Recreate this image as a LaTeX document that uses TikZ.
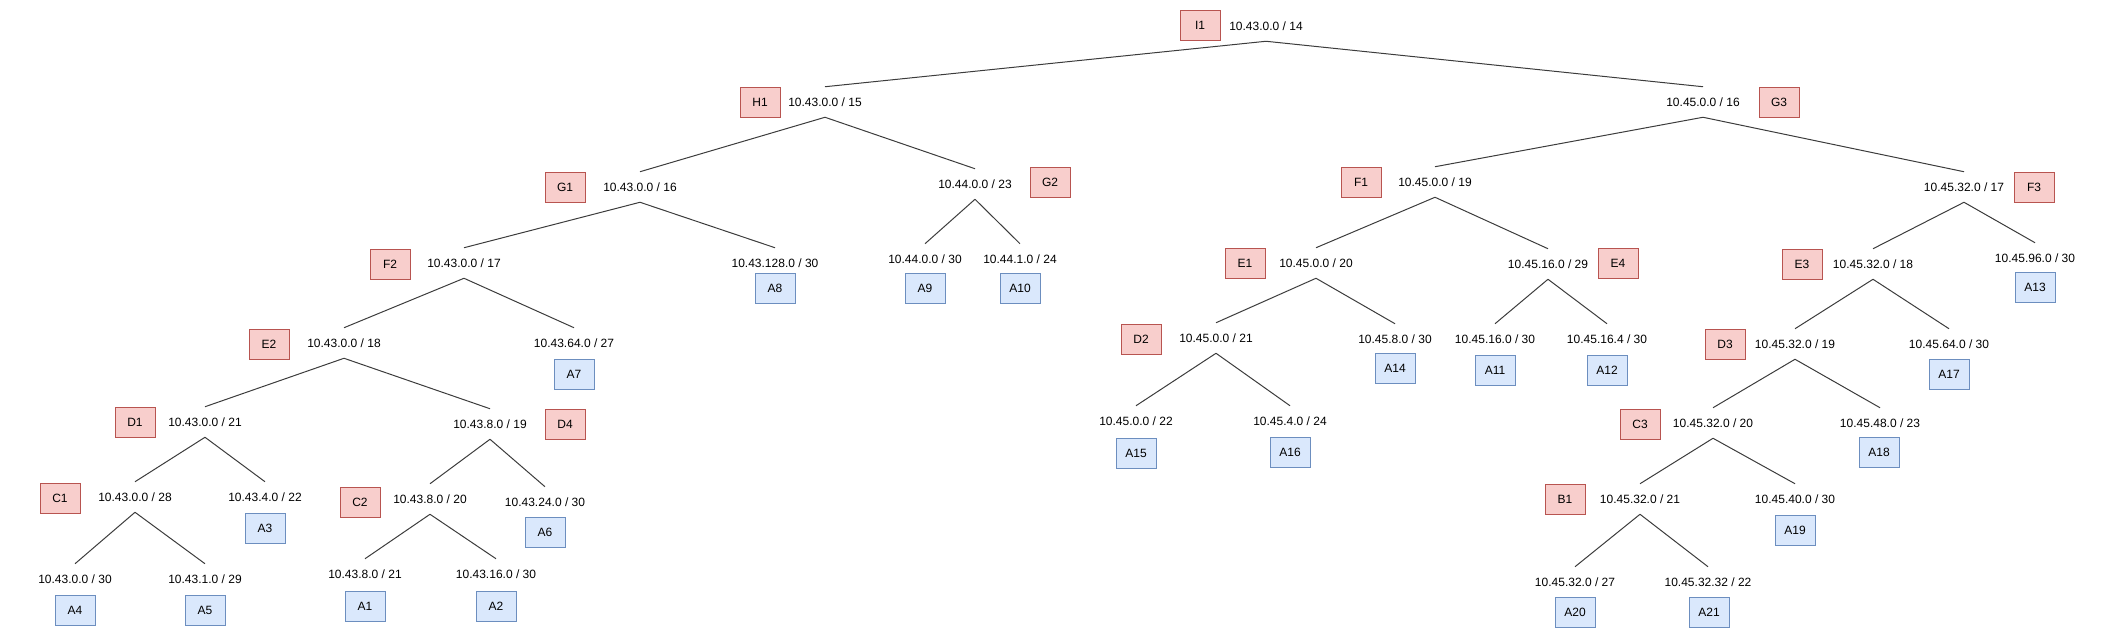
\documentclass[tikz,border=0pt]{standalone}
\usepackage{fontspec}
\setmainfont{Liberation Sans}
\definecolor{redfill}{HTML}{F8CECC}
\definecolor{redline}{HTML}{B85450}
\definecolor{bluefill}{HTML}{DAE8FC}
\definecolor{blueline}{HTML}{6C8EBF}
\definecolor{edgecol}{HTML}{3C3C3C}
\tikzset{
  redbox/.style={draw=redline, fill=redfill, line width=0.75pt, minimum width=30pt, minimum height=22.5pt, inner sep=0pt, font=\fontsize{9}{10}\selectfont},
  bluebox/.style={draw=blueline, fill=bluefill, line width=0.75pt, minimum width=30pt, minimum height=22.5pt, inner sep=0pt, font=\fontsize{9}{10}\selectfont},
  lbl/.style={minimum height=22.5pt, inner sep=0pt, font=\fontsize{9}{10}\selectfont},
  edge/.style={draw=edgecol, line width=0.75pt}
}
\begin{document}
\begin{tikzpicture}[x=0.75pt, y=-0.75pt]
\useasboundingbox (0,0) rectangle (2110,639);
% red boxes
\node[redbox] (I1) at (1200,25) {I1};
\node[redbox] (H1) at (760,102) {H1};
\node[redbox] (G1) at (565,187) {G1};
\node[redbox] (G2) at (1050,182) {G2};
\node[redbox] (G3) at (1779,102) {G3};
\node[redbox] (F1) at (1361,182) {F1};
\node[redbox] (F2) at (390,264) {F2};
\node[redbox] (F3) at (2034,187) {F3};
\node[redbox] (E1) at (1245,263) {E1};
\node[redbox] (E2) at (269,344) {E2};
\node[redbox] (E3) at (1802,264) {E3};
\node[redbox] (E4) at (1618,263) {E4};
\node[redbox] (D1) at (135,422) {D1};
\node[redbox] (D2) at (1141,339) {D2};
\node[redbox] (D3) at (1725,344) {D3};
\node[redbox] (D4) at (565,424) {D4};
\node[redbox] (C1) at (60,498) {C1};
\node[redbox] (C2) at (360,502) {C2};
\node[redbox] (C3) at (1640,424) {C3};
\node[redbox] (B1) at (1565,499) {B1};
% blue boxes
\node[bluebox] (A1) at (365,606) {A1};
\node[bluebox] (A2) at (496,606) {A2};
\node[bluebox] (A3) at (265,528) {A3};
\node[bluebox] (A4) at (75,610) {A4};
\node[bluebox] (A5) at (205,610) {A5};
\node[bluebox] (A6) at (545,532) {A6};
\node[bluebox] (A7) at (574,374) {A7};
\node[bluebox] (A8) at (775,288) {A8};
\node[bluebox] (A9) at (925,288) {A9};
\node[bluebox] (A10) at (1020,288) {A10};
\node[bluebox] (A11) at (1495,370) {A11};
\node[bluebox] (A12) at (1607,370) {A12};
\node[bluebox] (A13) at (2035,287) {A13};
\node[bluebox] (A14) at (1395,368) {A14};
\node[bluebox] (A15) at (1136,453) {A15};
\node[bluebox] (A16) at (1290,452) {A16};
\node[bluebox] (A17) at (1949,374) {A17};
\node[bluebox] (A18) at (1879,452) {A18};
\node[bluebox] (A19) at (1795,530) {A19};
\node[bluebox] (A20) at (1575,612) {A20};
\node[bluebox] (A21) at (1709,612) {A21};
% labels
\node[lbl] (l14) at (1266,26) {10.43.0.0 / 14};
\node[lbl] (l15) at (825,102) {10.43.0.0 / 15};
\node[lbl] (lG3) at (1703,102) {10.45.0.0 / 16};
\node[lbl] (lG1) at (640,187) {10.43.0.0 / 16};
\node[lbl] (lG2) at (975,184) {10.44.0.0 / 23};
\node[lbl] (lF2) at (464,263) {10.43.0.0 / 17};
\node[lbl] (lA8) at (775,263) {10.43.128.0 / 30};
\node[lbl] (lA9) at (925,259) {10.44.0.0 / 30};
\node[lbl] (lA10) at (1020,259) {10.44.1.0 / 24};
\node[lbl] (lE2) at (344,343) {10.43.0.0 / 18};
\node[lbl] (lA7) at (574,343) {10.43.64.0 / 27};
\node[lbl] (lD1) at (205,422) {10.43.0.0 / 21};
\node[lbl] (lD4) at (490,424) {10.43.8.0 / 19};
\node[lbl] (lC1) at (135,497) {10.43.0.0 / 28};
\node[lbl] (lA3) at (265,497) {10.43.4.0 / 22};
\node[lbl] (lC2) at (430,499) {10.43.8.0 / 20};
\node[lbl] (lA6) at (545,502) {10.43.24.0 / 30};
\node[lbl] (lA4) at (75,579) {10.43.0.0 / 30};
\node[lbl] (lA5) at (205,579) {10.43.1.0 / 29};
\node[lbl] (lA1) at (365,574) {10.43.8.0 / 21};
\node[lbl] (lA2) at (496,574) {10.43.16.0 / 30};
\node[lbl] (lF1) at (1435,182) {10.45.0.0 / 19};
\node[lbl] (lF3) at (1964,187) {10.45.32.0 / 17};
\node[lbl] (lE1) at (1316,263) {10.45.0.0 / 20};
\node[lbl] (lE4) at (1548,264) {10.45.16.0 / 29};
\node[lbl] (lD2) at (1216,338) {10.45.0.0 / 21};
\node[lbl] (lA14) at (1395,339) {10.45.8.0 / 30};
\node[lbl] (lA15) at (1136,421) {10.45.0.0 / 22};
\node[lbl] (lA16) at (1290,421) {10.45.4.0 / 24};
\node[lbl] (lA11) at (1495,339) {10.45.16.0 / 30};
\node[lbl] (lA12) at (1607,339) {10.45.16.4 / 30};
\node[lbl] (lE3) at (1873,264) {10.45.32.0 / 18};
\node[lbl] (lA13) at (2035,258) {10.45.96.0 / 30};
\node[lbl] (lD3) at (1795,344) {10.45.32.0 / 19};
\node[lbl] (lA17) at (1949,344) {10.45.64.0 / 30};
\node[lbl] (lC3) at (1713,423) {10.45.32.0 / 20};
\node[lbl] (lA18) at (1880,423) {10.45.48.0 / 23};
\node[lbl] (lB1) at (1640,499) {10.45.32.0 / 21};
\node[lbl] (lA19) at (1795,499) {10.45.40.0 / 30};
\node[lbl] (lA20) at (1575,582) {10.45.32.0 / 27};
\node[lbl] (lA21) at (1708,582) {10.45.32.32 / 22};
% edges
\foreach \p/\c in {l14/l15, l14/lG3, l15/lG1, l15/lG2, lG1/lF2, lG1/lA8,
  lG2/lA9, lG2/lA10, lF2/lE2, lF2/lA7, lE2/lD1, lE2/lD4, lD1/lC1, lD1/lA3,
  lD4/lC2, lD4/lA6, lC1/lA4, lC1/lA5, lC2/lA1, lC2/lA2,
  lG3/lF1, lG3/lF3, lF1/lE1, lF1/lE4, lE1/lD2, lE1/lA14, lD2/lA15, lD2/lA16,
  lE4/lA11, lE4/lA12, lF3/lE3, lF3/lA13, lE3/lD3, lE3/lA17, lD3/lC3, lD3/lA18,
  lC3/lB1, lC3/lA19, lB1/lA20, lB1/lA21}
  \draw[edge] (\p.south) -- (\c.north);
\end{tikzpicture}
\end{document}
